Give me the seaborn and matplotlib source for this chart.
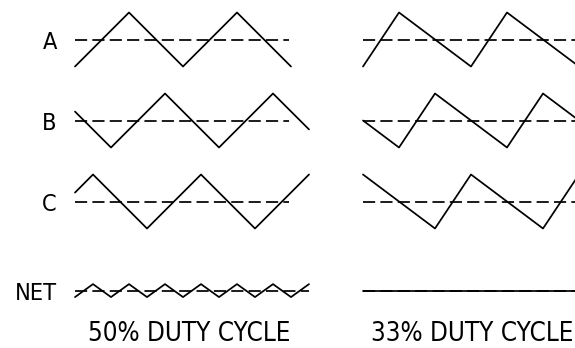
import numpy as np
import pandas as pd
import seaborn as sns
import matplotlib.pyplot as plt

# waveform vertices, phase in degrees, level in units of one half swing
rows = ["A", "B", "C", "NET"]

# 50% duty cycle
a50_t = [0, 180, 360, 540, 720]
a50_v = [-1, 1, -1, 1, -1]
b50_t = [0, 120, 300, 480, 660, 780]
b50_v = [0.33, -1, 1, -1, 1, -0.33]
c50_t = [0, 60, 240, 420, 600, 780]
c50_v = [0.33, 1, -1, 1, -1, 1]
net50_t = [0, 60, 120, 180, 240, 300, 360, 420, 480, 540, 600, 660, 720, 780]
net50_v = [-0.24, 0.24, -0.24, 0.24, -0.24, 0.24, -0.24, 0.24, -0.24, 0.24, -0.24, 0.24, -0.24, 0.24]
ref50_t = [0, 715]          # dashed reference for A, B, C
ref50_net_t = [0, 780]      # dashed reference for NET

# 33% duty cycle
a33_t = [0, 120, 360, 480, 720]
a33_v = [-1, 1, -1, 1, -1]
b33_t = [0, 120, 240, 480, 600, 720]
b33_v = [0, -1, 1, -1, 1, 0]
c33_t = [0, 240, 360, 600, 720]
c33_v = [1, -1, 1, -1, 1]
net33_t = [0, 720]
net33_v = [0, 0]
ref33_t = [0, 720]

titles = ["50% DUTY CYCLE", "33% DUTY CYCLE"]

# layout: vertical offset of each row
row_off = {"A": 0.0, "B": -3.0, "C": -6.0, "NET": -9.3}

sns.set_theme(style="white")
plt.rcParams['font.family'] = ['DejaVu Sans']
plt.rcParams['font.stretch'] = 'condensed'

W, H = 575, 348
fig = plt.figure(figsize=(W / 100, H / 100), dpi=100)

# axes placed in pixel units, 0.3 px per degree
ax1 = fig.add_axes([72 / W, (H - 310) / H, 240 / W, 310 / H])
ax2 = fig.add_axes([360 / W, (H - 310) / H, 215 / W, 310 / H])

LW = 1.25
DASH = (0, (7, 3))


def trace(ax, t, v, row, dashed=False):
    y = np.asarray(v, dtype=float) + row_off[row]
    df = pd.DataFrame({"t": t, "y": y})
    sns.lineplot(data=df, x="t", y="y", ax=ax, sort=False, estimator=None,
                 color="black", lw=LW, linestyle=DASH if dashed else "-")


# left panel
for row, t, v in [("A", a50_t, a50_v), ("B", b50_t, b50_v),
                  ("C", c50_t, c50_v), ("NET", net50_t, net50_v)]:
    rt = ref50_net_t if row == "NET" else ref50_t
    trace(ax1, rt, [0, 0], row, dashed=True)
    trace(ax1, t, v, row)

# right panel
for row, t, v in [("A", a33_t, a33_v), ("B", b33_t, b33_v),
                  ("C", c33_t, c33_v), ("NET", net33_t, net33_v)]:
    trace(ax2, ref33_t, [0, 0], row, dashed=True)
    trace(ax2, t, v, row)

ytop = 39.5 / 27
ybot = -(310 - 39.5) / 27
ax1.set_xlim(-10, 790)
ax2.set_xlim(-10, 706.67)
for ax in (ax1, ax2):
    ax.set_ylim(ybot, ytop)
    sns.despine(ax=ax, left=True, bottom=True)
    ax.set_xticks([])
    ax.set_ylabel("")

ax1.set_yticks([row_off[r] for r in rows])
ax1.set_yticklabels(rows, fontsize=17)
ax1.tick_params(axis="y", length=0, pad=11, colors="black")
ax2.set_yticks([])

ax1.set_xlabel(titles[0], fontsize=19, color="black")
ax2.set_xlabel(titles[1], fontsize=19, color="black")

# fit the label sizes to the widths seen in the reference
fig.canvas.draw()
r = fig.canvas.get_renderer()
w_lab = ax1.xaxis.label.get_window_extent(r).width
fs = 19 * 203 / w_lab
ax1.xaxis.label.set_fontsize(fs)
ax2.xaxis.label.set_fontsize(fs)
w_net = ax1.get_yticklabels()[3].get_window_extent(r).width
for lab in ax1.get_yticklabels():
    lab.set_fontsize(17 * 42 / w_net)

ax1.xaxis.set_label_coords(0.49, -0.035)
ax2.xaxis.set_label_coords(0.524, -0.035)

fig.savefig("out.png", dpi=100)
